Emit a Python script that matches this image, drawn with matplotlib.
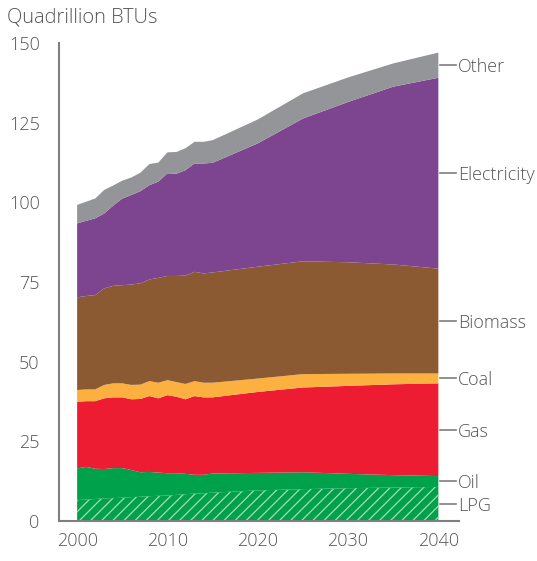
import matplotlib
matplotlib.use('Agg')
import matplotlib.pyplot as plt
import numpy as np

plt.rcParams['font.family'] = ['Open Sans', 'DejaVu Sans']
plt.rcParams['font.weight'] = 300
plt.rcParams['hatch.linewidth'] = 0.9

years = [2000, 2001, 2002, 2003, 2004, 2005, 2006, 2007, 2008, 2009, 2010,
         2011, 2012, 2013, 2014, 2015, 2020, 2025, 2030, 2035, 2040]

lpg = [6.6, 6.7, 6.9, 7.1, 7.2, 7.3, 7.5, 7.6, 7.8, 7.9, 8.0,
       8.2, 8.4, 8.6, 8.7, 8.9, 9.6, 10.0, 10.3, 10.5, 10.7]
oil = [9.9, 10.3, 9.5, 9.2, 9.4, 9.3, 8.5, 7.7, 7.6, 7.3, 7.0,
       6.8, 6.4, 5.9, 5.8, 6.0, 5.5, 5.3, 4.5, 3.9, 3.4]
gas = [20.9, 20.6, 21.2, 22.2, 22.2, 22.2, 22.2, 23.0, 23.8, 23.3, 24.5,
       24.0, 23.4, 24.7, 24.3, 23.9, 25.4, 26.6, 27.6, 28.5, 29.1]
coal = [3.7, 3.7, 3.7, 4.2, 4.4, 4.4, 4.5, 4.5, 4.7, 4.9, 4.7,
        4.6, 4.8, 4.7, 4.6, 4.6, 4.2, 4.2, 3.8, 3.4, 3.1]
biomass = [29.1, 29.3, 29.6, 30.3, 30.6, 30.8, 31.5, 31.8, 31.9, 32.9, 32.7,
           33.3, 34.0, 34.3, 34.3, 34.6, 35.1, 35.4, 35.0, 34.2, 32.9]
electricity = [23.2, 23.6, 24.1, 23.5, 25.2, 27.2, 28.1, 28.9, 29.6, 30.2, 32.2,
               32.1, 33.1, 34.0, 34.5, 34.4, 38.7, 44.8, 50.3, 55.8, 59.9]
other = [5.8, 6.0, 6.2, 7.4, 6.3, 5.6, 5.5, 5.8, 6.6, 6.0, 6.6,
         6.8, 6.9, 6.8, 6.8, 7.1, 7.5, 7.9, 7.7, 7.3, 7.9]

labels = ['LPG', 'Oil', 'Gas', 'Coal', 'Biomass', 'Electricity', 'Other']
colors = ['#00a14b', '#00a14b', '#ed1c33', '#fbb040', '#8b5a33', '#7d4590', '#939598']
series = [lpg, oil, gas, coal, biomass, electricity, other]

txt = '#555555'

fig = plt.figure(figsize=(5.37, 5.61), dpi=100)
ax = fig.add_axes([0.11, 0.0713, 0.745, 0.852])

polys = ax.stackplot(years, *series, colors=colors, linewidth=0)
polys[0].set_hatch('///')
polys[0].set_edgecolor('#a6dcb6')
polys[0].set_linewidth(0)

ax.set_xlim(1998, 2042.3)
ax.set_ylim(0, 150)
ax.set_yticks([0, 25, 50, 75, 100, 125, 150])
ax.set_xticks([2000, 2010, 2020, 2030, 2040])
ax.tick_params(length=0, labelsize=13, colors=txt, pad=8)
ax.tick_params(axis='y', pad=14)
for s in ['top', 'right']:
    ax.spines[s].set_visible(False)
for s in ['left', 'bottom']:
    ax.spines[s].set_color('#7f7f7f')
    ax.spines[s].set_linewidth(1.5)

# labels at the middle of each band at the last year
tops = np.cumsum([s[-1] for s in series])
bottoms = tops - np.array([s[-1] for s in series])
for name, lo, hi in zip(labels, bottoms, tops):
    mid = (lo + hi) / 2
    ax.plot([2040.2, 2042.0], [mid, mid], color='#7f7f7f', lw=1.2, clip_on=False)
    ax.text(2042.2, mid, name, va='center_baseline', ha='left', fontsize=13, color=txt)

fig.text(0.013, 0.968, 'Quadrillion BTUs', fontsize=14.5, color=txt, va='center', ha='left')

plt.savefig('out.png', dpi=100)
